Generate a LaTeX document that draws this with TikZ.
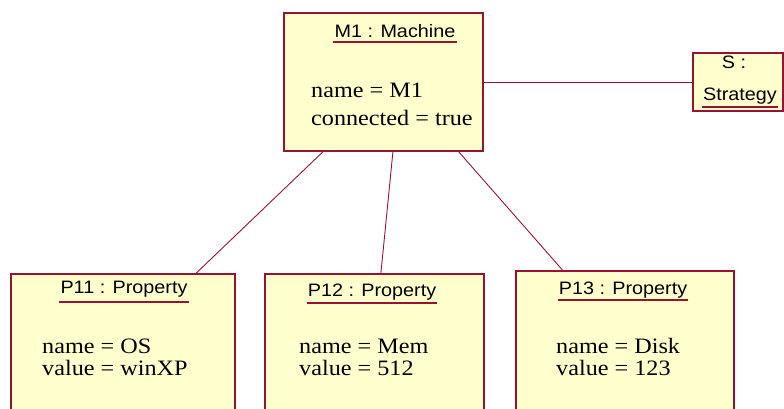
\documentclass[tikz,border=0pt]{standalone}
\usepackage{fontspec}
\usetikzlibrary{calc}
\newfontfamily\hdrfont[FakeStretch=1.1]{Liberation Sans}
\newfontfamily\attrfont[FakeStretch=1.1]{Liberation Serif}
\definecolor{objfill}{RGB}{255,255,206}
\definecolor{objline}{RGB}{150,20,50}
\tikzset{
  obj/.style={draw=objline,line width=1.6pt,fill=objfill,rectangle,anchor=north west,inner sep=0pt},
  hdr/.style={font=\hdrfont\fontsize{18}{20}\selectfont,anchor=base,inner sep=1pt},
  attr/.style={font=\attrfont\fontsize{22}{24}\selectfont,anchor=base west,inner sep=0pt},
  ul/.style={draw=objline,line width=1.3pt},
  link/.style={draw=objline,line width=0.9pt}
}
\begin{document}
\begin{tikzpicture}[x=1pt,y=-1pt]
    \useasboundingbox (0,0) rectangle (784,408);
    \clip (0,0) rectangle (784,408);
    %% objects
    \node[obj,minimum width=199pt,minimum height=138pt] (m1) at (283,12) {};
    \node[obj,minimum width=90pt,minimum height=58pt] (s) at (692,52) {};
    \node[obj,minimum width=224pt,minimum height=160pt] (p11) at (10,273) {};
    \node[obj,minimum width=219pt,minimum height=160pt] (p12) at (264,273) {};
    \node[obj,minimum width=218pt,minimum height=160pt] (p13) at (515,270) {};
    %% links
    \draw[link] (m1.east |- 0,82) coordinate (m1e) -- (s.west |- m1e);
    \draw[link] ($(m1.south west)!0.2!(m1.south east)$) -- ($(p11.north west)!0.826!(p11.north east)$);
    \draw[link] ($(m1.south west)!0.548!(m1.south east)$) -- ($(p12.north west)!0.53!(p12.north east)$);
    \draw[link] ($(m1.south west)!0.875!(m1.south east)$) -- ($(p13.north west)!0.216!(p13.north east)$);
    %% M1
    \node[hdr] (m1h) at (395,37) {M1 : Machine};
    \draw[ul] ($(m1h.base west)+(0,5)$) -- ($(m1h.base east)+(0,5)$);
    \node[attr] (m1a) at (311,97) {name = M1};
    \node[attr] (m1b) at (311,125) {connected = true};
    %% S
    \node[hdr] (sh) at (734,68) {S :};
    \node[hdr] (sh2) at (740,100) {Strategy};
    \draw[ul] ($(sh2.base west)+(0,7)$) -- ($(sh2.base east)+(0,7)$);
    %% P11
    \node[hdr] (p11h) at (124,293) {P11 : Property};
    \draw[ul] ($(p11h.base west)+(0,9)$) -- ($(p11h.base east)+(0,9)$);
    \node[attr] (p11a) at (42,353) {name = OS};
    \node[attr] (p11b) at (42,375) {value = winXP};
    %% P12
    \node[hdr] (p12h) at (372,296) {P12 : Property};
    \draw[ul] ($(p12h.base west)+(0,7)$) -- ($(p12h.base east)+(0,7)$);
    \node[attr] (p12a) at (299,353) {name = Mem};
    \node[attr] (p12b) at (299,375) {value = 512};
    %% P13
    \node[hdr] (p13h) at (623,294) {P13 : Property};
    \draw[ul] ($(p13h.base west)+(0,6)$) -- ($(p13h.base east)+(0,6)$);
    \node[attr] (p13a) at (556,353) {name = Disk};
    \node[attr] (p13b) at (556,375) {value = 123};
\end{tikzpicture}
\end{document}
